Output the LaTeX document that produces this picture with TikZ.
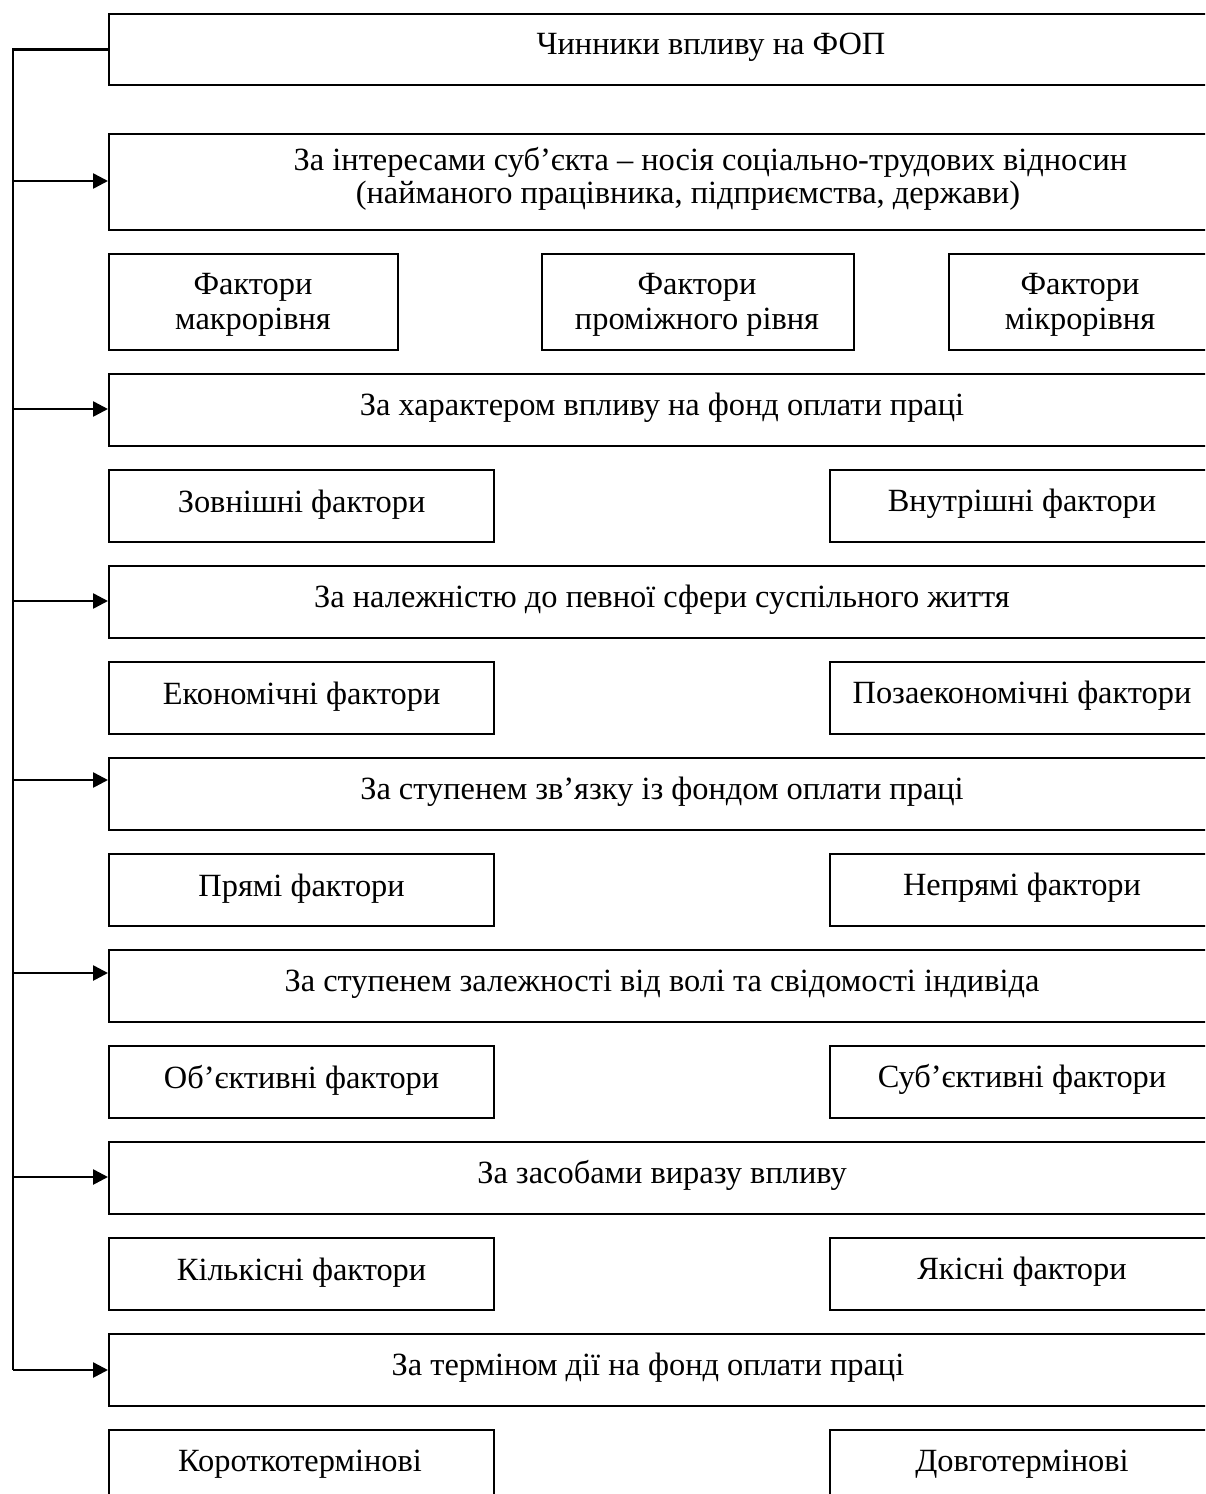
\documentclass[tikz,border=0pt]{standalone}
\usepackage{fontspec}
\setmainfont{Liberation Serif}
\usetikzlibrary{arrows.meta}
\tikzset{
  box/.style={draw, line width=1.1pt, inner sep=0pt, anchor=north west},
  lbl/.style={inner sep=0pt, font=\fontsize{16.2pt}{17.5pt}\selectfont, align=center},
  one/.style={lbl, text height=1.55ex, text depth=0.15ex},
  conn/.style={line width=1.3pt},
  arr/.style={line width=1.3pt, -{Triangle[length=7.5pt,width=7.5pt]}}
}
\begin{document}
\begin{tikzpicture}[x=0.5pt,y=-0.5pt]
\useasboundingbox (0,0) rectangle (1205,1494);
\clip (0,0) rectangle (1205,1494);
% main boxes (right edges run off the page)
\node[box, minimum width=553.5pt, minimum height=35.5pt] (b1) at (108,13) {};
\node[one] (t1) at (711,48) {Чинники впливу на ФОП};

\node[box, minimum width=553.5pt, minimum height=48pt] (b2) at (108,133) {};
\node[one] (t2a) at (710.5,164) {За інтересами суб’єкта – носія соціально-трудових відносин};
\node[one] (t2b) at (688,197) {(найманого працівника, підприємства, держави)};

\node[box, minimum width=144.5pt, minimum height=48pt] (r1a) at (108,253) {};
\node[lbl] at (253,305) {Фактори\\макрорівня};
\node[box, minimum width=156pt, minimum height=48pt] (r1b) at (541,253) {};
\node[lbl] at (697,305) {Фактори\\проміжного рівня};
\node[box, minimum width=140pt, minimum height=48pt] (r1c) at (948,253) {};
\node[lbl] at (1080,305) {Фактори\\мікрорівня};

\node[box, minimum width=553.5pt, minimum height=36pt] (b3) at (108,373) {};
\node[one] at (662,409) {За характером впливу на фонд оплати праці};
\node[box, minimum width=192.5pt, minimum height=36pt] (r2a) at (108,469) {};
\node[one] at (r2a.center) {Зовнішні фактори};
\node[box, minimum width=193pt, minimum height=36pt] (r2b) at (829,469) {};
\node[one] at (1022,505) {Внутрішні фактори};

\node[box, minimum width=553.5pt, minimum height=36pt] (b4) at (108,565) {};
\node[one] at (662,601) {За належністю до певної сфери суспільного життя};
\node[box, minimum width=192.5pt, minimum height=36pt] (r3a) at (108,661) {};
\node[one] at (r3a.center) {Економічні фактори};
\node[box, minimum width=193pt, minimum height=36pt] (r3b) at (829,661) {};
\node[one] at (1022,697) {Позаекономічні фактори};

\node[box, minimum width=553.5pt, minimum height=36pt] (b5) at (108,757) {};
\node[one] at (662,793) {За ступенем зв’язку із фондом оплати праці};
\node[box, minimum width=192.5pt, minimum height=36pt] (r4a) at (108,853) {};
\node[one] at (r4a.center) {Прямі фактори};
\node[box, minimum width=193pt, minimum height=36pt] (r4b) at (829,853) {};
\node[one] at (1022,889) {Непрямі фактори};

\node[box, minimum width=553.5pt, minimum height=36pt] (b6) at (108,949) {};
\node[one] at (662,985) {За ступенем залежності від волі та свідомості індивіда};
\node[box, minimum width=192.5pt, minimum height=36pt] (r5a) at (108,1045) {};
\node[one] at (r5a.center) {Об’єктивні фактори};
\node[box, minimum width=193pt, minimum height=36pt] (r5b) at (829,1045) {};
\node[one] at (1022,1081) {Суб’єктивні фактори};

\node[box, minimum width=553.5pt, minimum height=36pt] (b7) at (108,1141) {};
\node[one] at (662,1177) {За засобами виразу впливу};
\node[box, minimum width=192.5pt, minimum height=36pt] (r6a) at (108,1237) {};
\node[one] at (r6a.center) {Кількісні фактори};
\node[box, minimum width=193pt, minimum height=36pt] (r6b) at (829,1237) {};
\node[one] at (1022,1273) {Якісні фактори};

\node[box, minimum width=553.5pt, minimum height=36pt] (b8) at (108,1333) {};
\node[one] at (648,1369) {За терміном дії на фонд оплати праці};
\node[box, minimum width=192.5pt, minimum height=36pt] (r7a) at (108,1429) {};
\node[one] at (300,1465) {Короткотермінові};
\node[box, minimum width=193pt, minimum height=36pt] (r7b) at (829,1429) {};
\node[one] at (1022,1465) {Довготермінові};

% spine
\coordinate (s1) at (13,181);
\coordinate (s2) at (13,409);
\coordinate (s3) at (13,601);
\coordinate (s4) at (13,780);
\coordinate (s5) at (13,973);
\coordinate (s6) at (13,1177);
\coordinate (s7) at (13,1370);
\draw[conn] (b1.west) -- (b1.west -| s7) -- (s7);
\draw[arr] (s1) -- (s1 -| b2.west);
\draw[arr] (s2) -- (s2 -| b3.west);
\draw[arr] (s3) -- (s3 -| b4.west);
\draw[arr] (s4) -- (s4 -| b5.west);
\draw[arr] (s5) -- (s5 -| b6.west);
\draw[arr] (s6) -- (s6 -| b7.west);
\draw[arr] (s7) -- (s7 -| b8.west);
\end{tikzpicture}
\end{document}
